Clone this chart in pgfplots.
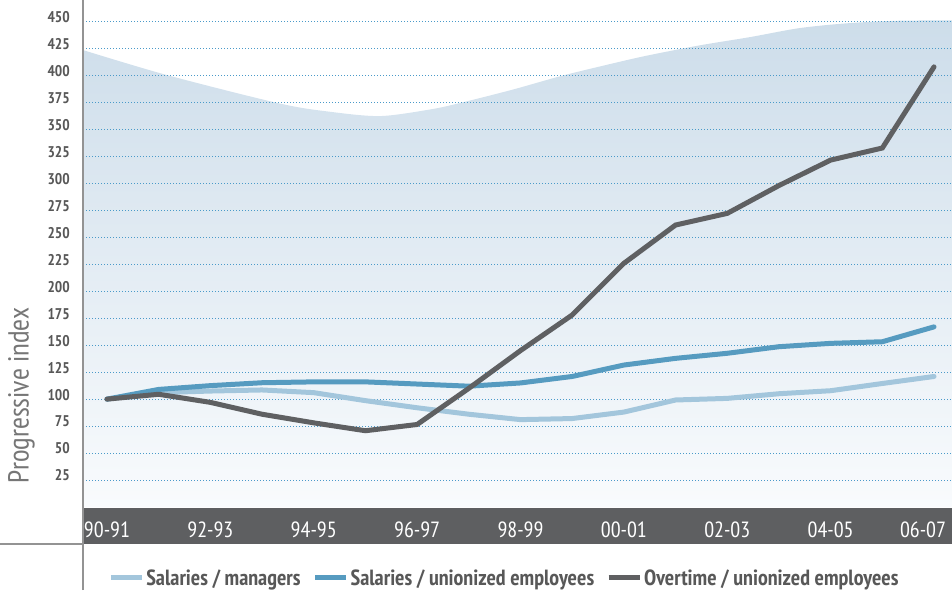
\documentclass[border=0pt]{standalone}
\usepackage{fontspec}
\setmainfont{PT Sans Narrow}
\usepackage{pgfplots}
\pgfplotsset{compat=1.18}
\definecolor{lightline}{RGB}{163,198,220}
\definecolor{midline}{RGB}{86,155,192}
\definecolor{darkline}{RGB}{95,96,98}
\definecolor{gridblue}{RGB}{74,154,201}
\definecolor{band}{RGB}{94,95,97}
\definecolor{txt}{RGB}{88,88,88}
\definecolor{labtxt}{RGB}{118,118,118}
\definecolor{areatop}{RGB}{205,221,234}
\definecolor{areabot}{RGB}{249,251,253}
\begin{document}
\begin{tikzpicture}
\draw[gray!85, line width=1.5pt] (83pt,0pt) -- (83pt,590pt);
\draw[gray!85, line width=1.5pt] (0pt,46pt) -- (83pt,46pt);
\begin{axis}[
  set layers,
  clip mode=individual,
  at={(83pt,83pt)}, anchor=south west,
  scale only axis, width=869pt, height=507pt,
  xmin=-0.464, xmax=16.348, ymin=0, ymax=470,
  axis line style={draw=none},
  major tick length=0pt,
  xtick={0,2,...,16},
  xticklabels={90-91,92-93,94-95,96-97,98-99,00-01,02-03,04-05,{\hbox to 0pt{\hss 06-07\kern 22pt\hss}}},
  ytick={25,50,...,450},
  ymajorgrids,
  grid style={gridblue, line width=1pt, dash pattern=on 1pt off 2pt},
  /pgf/number format/assume math mode=true,
  x tick label style={white, anchor=base, yshift=-30pt, font=\fontsize{22}{22}\selectfont},
  y tick label style={txt, anchor=east, inner sep=0pt, xshift=-13pt, yshift=4.5pt, font=\fontsize{15.5}{16}\selectfont\bfseries},
  ylabel={Progressive index},
  every axis y label/.style={at={(axis description cs:-0.0708,0.22)}, rotate=90, anchor=center, font=\fontsize{29}{29}\selectfont, text=labtxt},
  legend columns=3,
  legend style={at={(0.485,-0.14)}, anchor=center, draw=none, fill=none,
    font=\fontsize{22}{22}\selectfont\bfseries, text=txt,
    /tikz/every even column/.append style={column sep=10pt}},
  legend image code/.code={\draw[#1, line cap=butt] (0pt,0pt) -- (31pt,0pt);},
]
\begin{pgfonlayer}{axis background}
\fill[band] (axis cs:-0.464,-0.9) rectangle (axis cs:16.6,-34.3);
\end{pgfonlayer}
\addplot[on layer=axis background, draw=none, top color=areatop, bottom color=areabot, smooth, tension=0.5, forget plot] coordinates {
 (-0.464,423.6) (1.161,400.4) (3.347,374) (4.314,366.4) (5.282,362.4) (6.249,368.5) (6.829,374.5) (7.855,387) (8.822,400) (9.925,412.8) (10.505,419) (11.472,428) (12.440,435.6) (13.407,444) (14.374,448.6) (15.341,450.8) (16.348,451)
} \closedcycle;
\addplot[lightline, line width=5pt, line cap=round] coordinates {
 (0,100)(1,106)(2,107.5)(3,108.5)(4,106)(5,98.6)(6,92)(7,86)(8,81)(9,82)(10,88)(11,99.2)(12,100.7)(13,105)(14,107.8)(15,114.5)(16,121)
};
\addlegendentry{Salaries / managers}
\addplot[midline, line width=5pt, line cap=round] coordinates {
 (0,100)(1,109)(2,112.5)(3,115.2)(4,116)(5,116)(6,114)(7,112)(8,115)(9,121)(10,131.6)(11,137.8)(12,142.5)(13,148.6)(14,151.7)(15,153.2)(16,167)
};
\addlegendentry{Salaries / unionized employees}
\addplot[darkline, line width=5pt, line cap=round] coordinates {
 (0,100)(1,104.5)(2,97)(3,86)(4,78)(5,70.7)(6,76.5)(7,110)(8,145)(9,178)(10,225.9)(11,261.4)(12,272.2)(13,298)(14,321.6)(15,332.8)(16,408)
};
\addlegendentry{Overtime / unionized employees}
\end{axis}
\pgfresetboundingbox
\path (0pt,0pt) rectangle (952pt,590pt);
\end{tikzpicture}
\end{document}
